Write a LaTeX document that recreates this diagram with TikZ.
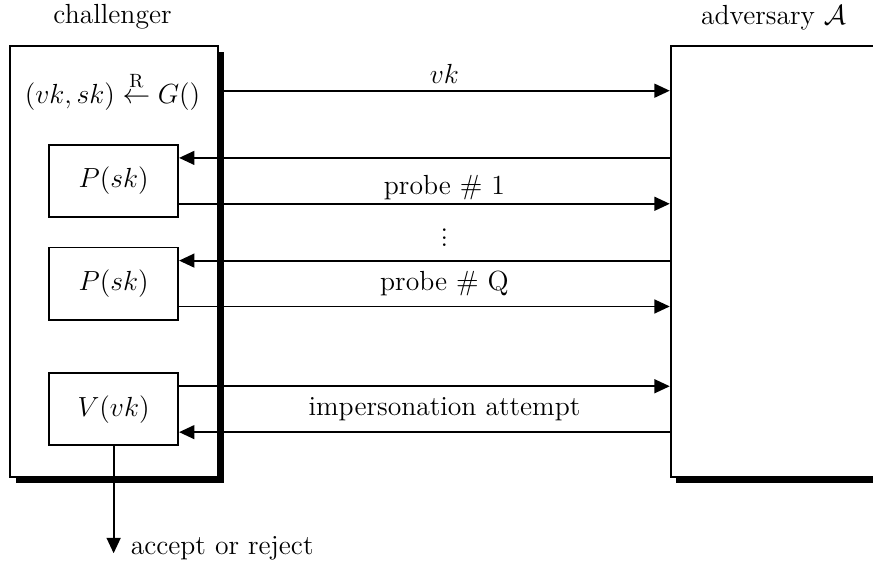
\documentclass[tikz,border=0pt]{standalone}
\usepackage{amsmath}
\usetikzlibrary{positioning, arrows.meta, calc, shadows}

\begin{document}
\begin{tikzpicture}[
  line width=1pt,
  every node/.style={font=\Large},
  party/.style={draw, fill=white, minimum width=3.81cm, minimum height=7.89cm,
                drop shadow={opacity=1, fill=black, shadow xshift=3pt, shadow yshift=-3pt}},
  box/.style={draw, fill=white, minimum width=2.36cm, minimum height=1.32cm},
  arrow/.style={-{Triangle[length=8pt, width=7.2pt]}}
]
  \useasboundingbox (0,0) rectangle (15.98,-10.38);
  \clip (0,0) rectangle (15.98,-10.38);
  \node[party] (ch) at (2.09,-4.79) {};
  \node[party, minimum width=7cm, anchor=west] (adv) at (12.26,-4.79) {};
  \node (chname) at (2.06,-0.31) {challenger};
  \node (advname) at (14.16,-0.33) {adversary $\mathcal{A}$};
  \node (gen) at (2.06,-1.66) {$(vk,sk) \stackrel{\scriptstyle\mathrm{R}}{\leftarrow} G()$};
  \node[box] (p1) at (2.08,-3.31) {$P(sk)$};
  \node[box] (p2) at (2.08,-5.19) {$P(sk)$};
  \node[box] (v) at (2.08,-7.49) {$V(vk)$};
  \foreach \b in {p1, p2, v} {
    \coordinate (\b in) at ([yshift=4.2mm]\b.east);
    \coordinate (\b out) at ([yshift=-4.2mm]\b.east);
  }
  \coordinate (mid) at ($(p1)!0.5!(p2)$);
  \draw[arrow] (gen -| ch.east) -- (gen -| adv.west) node[midway, above] {$vk$};
  \draw[arrow] (p1in -| adv.west) -- (p1in);
  \draw[arrow] (p1out) -- (p1out -| adv.west);
  \draw[arrow] (p2in -| adv.west) -- (p2in);
  \draw[arrow] (p2out) -- (p2out -| adv.west);
  \draw[arrow] (vin) -- (vin -| adv.west);
  \draw[arrow] (vout -| adv.west) -- (vout);
  \node (probe1) at ($(p1 -| ch.east)!0.5!(p1 -| adv.west)$) [yshift=-1.3mm] {probe \# 1};
  \node (dots) at ($(mid -| ch.east)!0.5!(mid -| adv.west)$) {$\vdots$};
  \node (probeq) at ($(p2 -| ch.east)!0.5!(p2 -| adv.west)$) {probe \# Q};
  \node (imp) at ($(v -| ch.east)!0.5!(v -| adv.west)$) {impersonation attempt};
  \draw[arrow] (v.south) -- ++(0,-1.96) node[right, xshift=0.18cm, yshift=2.5pt] (res) {accept or reject};
\end{tikzpicture}
\end{document}
